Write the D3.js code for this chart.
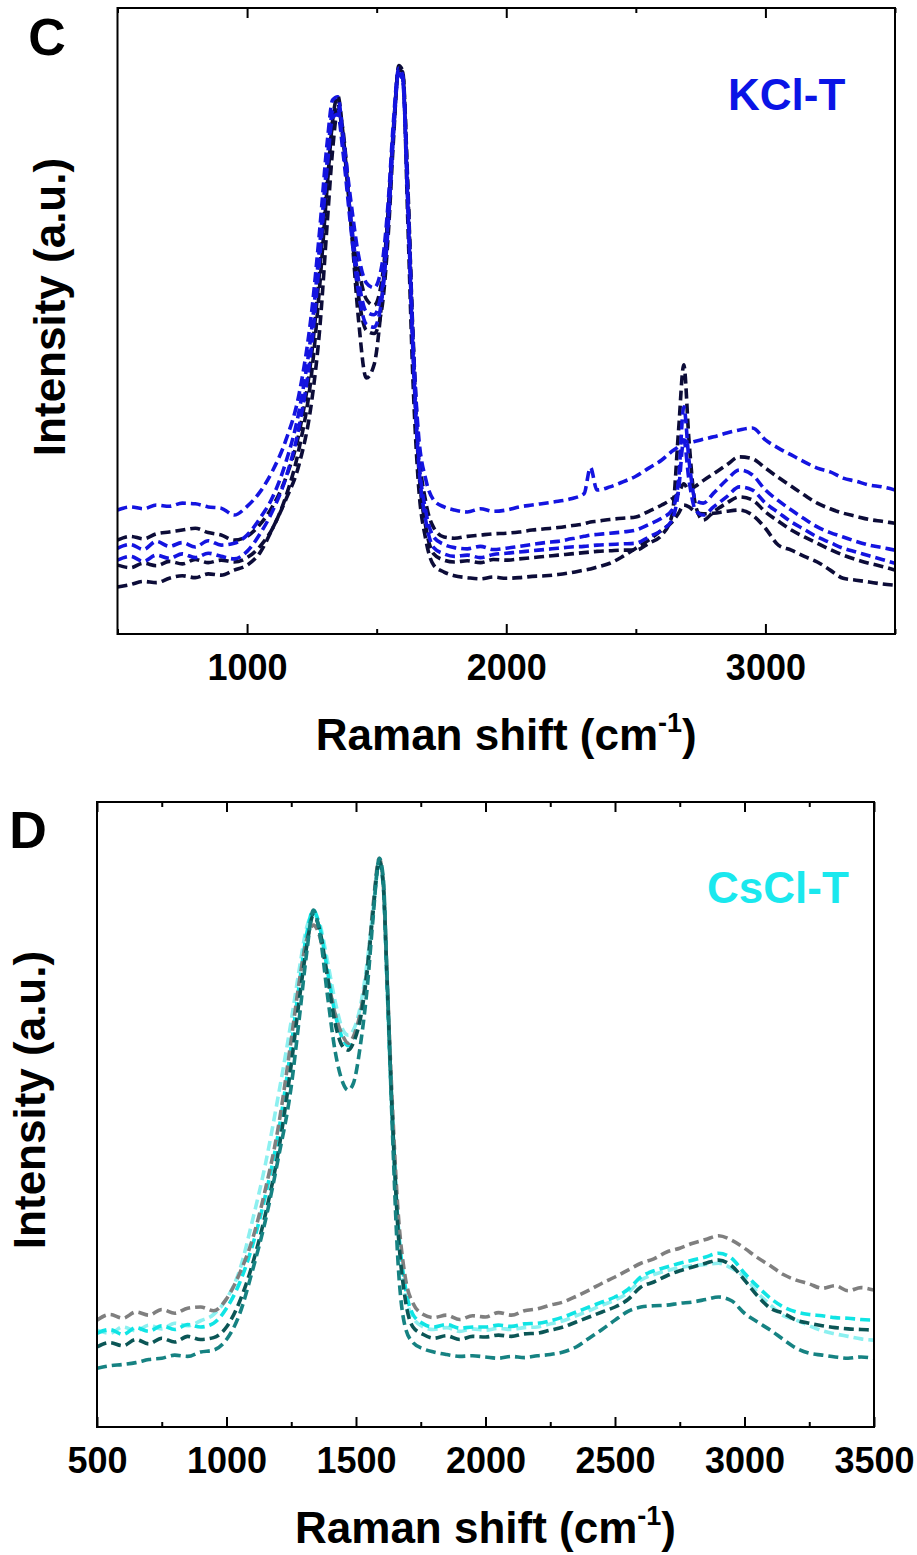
<!DOCTYPE html>
<html>
<head>
<meta charset="utf-8">
<script src="https://cdn.jsdelivr.net/npm/d3@7"></script>
<style>
  body { margin: 0; background: #fff; }
  svg { display: block; }
</style>
</head>
<body>
<div id="chart"></div>
<script>

// panel C : KCl-T spectra
var kclShift = [
  500, 550, 600, 650, 700, 750, 800, 850, 900, 950,
  1000, 1050, 1100, 1150, 1200, 1250, 1280, 1310, 1330, 1350,
  1370, 1400, 1430, 1460, 1490, 1520, 1545, 1565, 1585, 1600,
  1620, 1640, 1660, 1690, 1720, 1760, 1800, 1850, 1900, 1950,
  2000, 2050, 2100, 2150, 2200, 2250, 2300, 2325, 2350, 2400,
  2450, 2500, 2550, 2600, 2640, 2665, 2685, 2705, 2730, 2760,
  2800, 2850, 2900, 2950, 3000, 3050, 3100, 3150, 3200, 3250,
  3300, 3350, 3400, 3450, 3500
];
var kclA = [
  19.8, 20.3, 20.0, 20.6, 20.4, 20.9, 20.8, 20.3, 20.1, 19.0,
  20.4, 22.7, 26.2, 31.0, 38.2, 51.8, 64.5, 78.9, 85.3, 85.8,
  79.7, 69.3, 60.5, 56.1, 55.3, 58.9, 69.3, 82.1, 90.4, 89.3,
  69.3, 47.0, 32.6, 24.6, 21.4, 20.3, 19.8, 19.5, 20.0, 19.6,
  19.8, 20.3, 20.6, 20.9, 21.2, 21.6, 22.4, 26.6, 23.0, 23.5,
  24.3, 25.2, 26.5, 27.8, 29.2, 30.0, 31.0, 30.6, 30.8, 31.1,
  31.5, 32.1, 32.6, 32.9, 31.0, 29.7, 28.6, 27.5, 26.5, 25.9,
  24.9, 24.4, 23.8, 23.5, 23.0
];
var kclB = [
  15.0, 15.6, 15.2, 16.0, 16.3, 16.6, 16.9, 16.2, 15.8, 15.0,
  15.6, 17.5, 20.5, 25.0, 32.0, 45.0, 58.0, 73.0, 82.0, 84.8,
  79.0, 67.5, 58.5, 53.5, 52.5, 56.5, 67.5, 81.0, 90.0, 89.5,
  71.0, 48.0, 31.0, 21.0, 17.0, 15.5, 15.3, 15.6, 15.8, 16.0,
  16.1, 16.3, 16.6, 16.8, 17.0, 17.3, 17.6, 17.9, 18.0, 18.3,
  18.5, 18.7, 19.6, 20.6, 21.6, 22.5, 24.0, 23.0, 23.6, 24.5,
  25.6, 27.0, 28.3, 28.0, 26.5, 25.0, 23.6, 22.2, 20.9, 20.0,
  19.3, 18.8, 18.3, 18.0, 17.7
];
var kclC = [
  13.7, 14.3, 13.5, 14.8, 14.0, 14.6, 13.9, 14.9, 14.2, 14.5,
  15.8, 18.5, 22.0, 27.5, 35.5, 49.0, 62.0, 76.0, 83.5, 84.0,
  78.0, 66.5, 56.5, 51.5, 51.0, 55.0, 66.5, 80.5, 89.8, 89.0,
  70.0, 46.0, 29.5, 19.5, 15.5, 14.3, 13.8, 13.6, 14.0, 13.5,
  13.7, 14.0, 14.3, 14.6, 14.8, 15.2, 15.6, 15.8, 15.9, 16.1,
  16.3, 16.6, 17.5, 18.5, 19.8, 24.6, 36.3, 27.8, 21.4, 20.9,
  22.5, 24.6, 26.2, 25.4, 23.0, 21.3, 19.8, 18.4, 17.1, 16.2,
  15.5, 14.8, 14.2, 13.8, 13.4
];
var kclD = [
  11.8, 12.4, 11.6, 12.6, 12.1, 12.8, 12.2, 12.9, 12.4, 12.0,
  13.2, 16.0, 19.8, 25.0, 33.0, 46.5, 60.0, 75.0, 82.5, 83.0,
  77.0, 65.0, 54.5, 49.5, 49.0, 53.5, 65.5, 80.0, 89.5, 88.5,
  69.0, 45.0, 28.5, 18.0, 13.8, 12.8, 12.4, 12.6, 12.2, 12.7,
  12.9, 13.1, 13.3, 13.5, 13.7, 13.9, 14.0, 14.1, 14.2, 14.3,
  14.4, 14.5, 15.5, 16.6, 18.2, 23.0, 31.0, 24.6, 19.8, 19.0,
  20.3, 21.9, 23.5, 23.0, 20.9, 19.4, 17.9, 16.7, 15.5, 14.6,
  13.7, 13.1, 12.5, 11.9, 11.3
];
var kclE = [
  11.0, 10.6, 11.3, 10.9, 11.6, 11.2, 11.9, 11.4, 11.8, 11.5,
  12.2, 14.0, 17.0, 22.0, 29.5, 42.0, 55.5, 72.0, 82.0, 86.0,
  80.0, 66.0, 54.0, 48.5, 48.0, 52.0, 64.0, 79.0, 90.8, 90.0,
  72.0, 47.0, 28.0, 17.0, 12.8, 11.8, 11.5, 11.7, 11.4, 11.9,
  11.8, 12.0, 12.2, 12.4, 12.6, 12.8, 13.0, 13.1, 13.2, 13.3,
  13.4, 13.4, 14.5, 15.8, 19.0, 32.6, 43.0, 31.0, 20.6, 18.2,
  19.5, 20.9, 21.9, 21.4, 19.5, 18.0, 16.6, 15.5, 14.5, 13.5,
  12.6, 11.9, 11.3, 10.8, 10.2
];
var kclF = [
  7.5, 7.9, 8.4, 8.2, 8.9, 9.3, 9.0, 9.6, 9.4, 10.2,
  11.0, 13.0, 17.0, 21.5, 27.0, 37.4, 48.6, 66.1, 77.3, 83.7,
  80.5, 66.1, 50.2, 40.9, 43.0, 53.4, 67.7, 80.5, 90.1, 89.8,
  66.1, 40.6, 24.6, 15.0, 11.0, 9.9, 9.3, 9.0, 8.8, 9.1,
  8.9, 9.0, 9.2, 9.3, 9.5, 9.8, 10.2, 10.4, 10.7, 11.3,
  12.4, 13.7, 15.0, 16.6, 17.9, 19.3, 20.6, 20.3, 19.5, 19.2,
  19.3, 19.6, 19.8, 19.0, 16.9, 14.2, 13.4, 12.4, 11.5, 10.2,
  8.9, 8.6, 8.3, 8.0, 7.8
];

// panel D : CsCl-T spectra
var cscShift = [
  500, 550, 600, 650, 700, 750, 800, 850, 900, 950,
  1000, 1050, 1100, 1150, 1200, 1250, 1280, 1310, 1335, 1360,
  1390, 1420, 1450, 1470, 1490, 1520, 1545, 1565, 1590, 1605,
  1620, 1640, 1660, 1690, 1720, 1760, 1800, 1850, 1900, 1950,
  2000, 2050, 2100, 2150, 2200, 2250, 2300, 2350, 2400, 2450,
  2500, 2550, 2600, 2650, 2700, 2750, 2800, 2850, 2900, 2950,
  3000, 3050, 3100, 3150, 3200, 3250, 3300, 3350, 3400, 3450,
  3500
];
var cscGray = [
  17.1, 18.0, 17.4, 18.4, 17.9, 18.8, 18.2, 19.0, 19.2, 18.6,
  20.5, 24.5, 30.0, 38.0, 48.0, 62.0, 71.0, 78.0, 80.3, 78.5,
  72.0, 66.0, 62.5, 61.4, 62.5, 67.0, 74.0, 83.0, 91.0, 87.0,
  72.0, 52.0, 36.0, 24.0, 19.8, 18.0, 17.5, 17.9, 17.2, 17.8,
  17.6, 18.3, 17.9, 18.6, 18.9, 19.5, 20.0, 20.9, 21.9, 23.0,
  24.0, 25.1, 26.2, 26.9, 28.0, 28.6, 29.4, 30.0, 30.6, 29.9,
  28.6, 27.1, 25.8, 24.4, 23.5, 22.9, 22.2, 22.6, 21.8, 22.3,
  21.9
];
var cscCyan = [
  15.0, 15.6, 14.8, 15.9, 15.3, 16.2, 15.6, 16.4, 16.0, 16.6,
  19.0, 23.0, 29.0, 37.0, 47.0, 61.0, 70.5, 79.0, 82.7, 80.0,
  73.0, 66.0, 62.0, 61.0, 62.0, 66.5, 74.0, 82.5, 90.4, 87.0,
  71.0, 50.0, 34.0, 22.5, 18.0, 16.5, 16.0, 16.4, 15.8, 16.0,
  16.0, 16.3, 16.1, 16.5, 16.6, 17.0, 17.6, 18.4, 19.2, 20.0,
  20.8, 22.0, 24.0, 25.0, 25.6, 26.2, 26.7, 27.2, 27.8, 27.0,
  24.6, 22.5, 20.6, 19.2, 18.4, 18.0, 17.8, 17.5, 17.4, 17.2,
  17.1
];
var cscLight = [
  15.5, 15.0, 16.0, 15.4, 16.3, 15.7, 16.6, 16.2, 17.0, 18.0,
  20.5, 25.0, 33.0, 42.0, 53.0, 65.0, 73.0, 80.0, 82.0, 80.5,
  74.5, 68.0, 63.5, 62.7, 63.5, 68.0, 75.0, 82.5, 90.0, 86.5,
  70.0, 49.0, 33.0, 21.5, 17.5, 16.0, 15.6, 15.9, 15.3, 15.7,
  15.5, 15.8, 15.6, 15.9, 16.0, 16.5, 17.0, 17.8, 18.6, 19.5,
  20.3, 21.5, 23.5, 24.4, 25.0, 25.5, 25.8, 26.0, 26.2, 25.4,
  24.0, 21.5, 19.5, 17.8, 17.1, 16.2, 15.4, 14.9, 14.5, 14.1,
  13.9
];
var cscDark = [
  12.8, 13.5, 13.0, 14.0, 13.3, 14.2, 13.6, 14.5, 14.0, 14.3,
  16.0, 20.0, 26.0, 34.0, 44.0, 58.0, 68.0, 77.0, 81.9, 79.5,
  72.0, 64.5, 60.8, 60.3, 61.5, 66.0, 73.5, 82.0, 90.6, 87.0,
  71.5, 50.0, 33.0, 20.5, 16.0, 14.8, 14.2, 14.6, 14.0, 14.5,
  14.4, 14.7, 14.5, 14.9, 15.0, 15.5, 16.0, 16.8, 17.6, 18.4,
  19.2, 20.4, 22.4, 23.2, 24.2, 25.0, 25.6, 26.2, 26.7, 25.8,
  23.5, 21.0, 19.0, 18.2, 17.1, 16.6, 16.2, 15.9, 15.7, 15.6,
  15.5
];
var cscTeal = [
  9.4, 9.8, 10.0, 10.3, 10.8, 11.0, 11.5, 11.3, 12.0, 12.3,
  14.0, 18.0, 25.0, 33.0, 43.0, 54.5, 65.0, 76.0, 82.7, 79.0,
  69.0, 60.0, 55.0, 53.9, 55.0, 62.0, 71.0, 81.0, 91.0, 88.0,
  72.0, 48.0, 28.0, 16.0, 13.5, 12.5, 12.0, 11.6, 11.3, 11.4,
  11.2, 11.0, 11.3, 11.1, 11.4, 11.6, 12.0, 12.8, 14.2, 15.6,
  17.1, 18.5, 19.2, 19.4, 19.5, 19.8, 20.0, 20.4, 20.8, 20.2,
  18.2, 16.8, 15.5, 14.0, 12.6, 11.8, 11.5, 11.2, 11.0, 11.2,
  11.0
];

// ticks
var kclMajor = [1000, 2000, 3000];
var kclMinor = [500, 1500, 2500, 3500];
var cscMajor = [500, 1000, 1500, 2000, 2500, 3000, 3500];
var cscMinor = [750, 1250, 1750, 2250, 2750, 3250];

var FONT = 'Arial, "Liberation Sans", sans-serif';

var svg = d3.select('#chart').append('svg')
  .attr('width', 917)
  .attr('height', 1555)
  .attr('font-family', FONT)
  .attr('font-weight', 'bold');

function drawPanel(config) {

  var g = svg.append('g').attr('class', 'panel-' + config.name);

  var x = d3.scaleLinear().domain([500, 3500]).range([config.left, config.right]);
  var y = d3.scaleLinear().domain([0, 100]).range([config.bottom, config.top]);

  var clipId = 'clip-' + config.name;
  g.append('clipPath').attr('id', clipId)
    .append('rect')
    .attr('x', config.left)
    .attr('y', config.top)
    .attr('width', config.right - config.left)
    .attr('height', config.bottom - config.top);

  var line = d3.line()
    .x(function(d) { return x(d[0]); })
    .y(function(d) { return y(d[1]); })
    .curve(d3.curveMonotoneX);

  g.append('g')
    .attr('clip-path', 'url(#' + clipId + ')')
    .selectAll('path')
    .data(config.series)
    .enter().append('path')
    .attr('d', function(s) { return line(d3.zip(config.shift, s.values)); })
    .attr('fill', 'none')
    .attr('stroke', function(s) { return s.color; })
    .attr('stroke-width', 3.6)
    .attr('stroke-dasharray', '10,5');

  // inward ticks, bottom and top
  function ticks(axis, values, size, ypos, labels) {
    var a = g.append('g')
      .attr('transform', 'translate(0,' + ypos + ')')
      .call(axis(x).tickValues(values).tickSize(size).tickPadding(20)
        .tickFormat(labels ? d3.format('d') : ''));
    a.select('.domain').remove();
    a.attr('font-family', FONT).attr('font-size', 36).attr('font-weight', 'bold');
    a.selectAll('line').attr('stroke', '#000').attr('stroke-width', 2);
    a.selectAll('text').attr('fill', '#000');
  }
  ticks(d3.axisBottom, config.major, -10, config.bottom, true);
  ticks(d3.axisBottom, config.minor, -5, config.bottom, false);
  ticks(d3.axisTop, config.major, -10, config.top, false);
  ticks(d3.axisTop, config.minor, -5, config.top, false);

  g.append('rect')
    .attr('x', config.left)
    .attr('y', config.top)
    .attr('width', config.right - config.left)
    .attr('height', config.bottom - config.top)
    .attr('fill', 'none')
    .attr('stroke', '#000')
    .attr('stroke-width', 2);

  // axis titles
  var xt = g.append('text')
    .attr('x', (config.left + config.right) / 2)
    .attr('y', config.bottom + 116)
    .attr('text-anchor', 'middle')
    .attr('font-size', 44);
  xt.append('tspan').text('Raman shift (cm');
  xt.append('tspan').attr('dy', -18).attr('font-size', 27).text('-1');
  xt.append('tspan').attr('dy', 18).text(')');

  g.append('text')
    .attr('transform', 'translate(' + config.yTitleX + ',' + config.yTitleY + ') rotate(-90)')
    .attr('text-anchor', 'middle')
    .attr('font-size', 44)
    .text('Intensity (a.u.)');

  g.append('text')
    .attr('x', config.letterX)
    .attr('y', config.letterY)
    .attr('text-anchor', 'middle')
    .attr('font-size', 52)
    .text(config.letter);

  g.append('text')
    .attr('x', config.labelX)
    .attr('y', config.labelY)
    .attr('font-size', 44)
    .attr('fill', config.labelColor)
    .text(config.label);
}

var BLUE = '#1414e0';
var NAVY = '#0c0c38';

drawPanel({
  name: 'c', left: 117.5, right: 895, top: 8, bottom: 634,
  shift: kclShift,
  series: [
    { values: kclB, color: NAVY },
    { values: kclE, color: NAVY },
    { values: kclF, color: NAVY },
    { values: kclA, color: BLUE },
    { values: kclC, color: BLUE },
    { values: kclD, color: BLUE }
  ],
  major: kclMajor, minor: kclMinor,
  yTitleX: 65, yTitleY: 307,
  letter: 'C', letterX: 47, letterY: 55,
  label: 'KCl-T', labelX: 728, labelY: 110, labelColor: '#0a14e6'
});

drawPanel({
  name: 'd', left: 97, right: 874, top: 802, bottom: 1427,
  shift: cscShift,
  series: [
    { values: cscLight, color: '#8cf0f0' },
    { values: cscCyan, color: '#10e4e4' },
    { values: cscGray, color: '#7f7f7f' },
    { values: cscDark, color: '#0b5656' },
    { values: cscTeal, color: '#168282' }
  ],
  major: cscMajor, minor: cscMinor,
  yTitleX: 45, yTitleY: 1100,
  letter: 'D', letterX: 28, letterY: 848,
  label: 'CsCl-T', labelX: 707, labelY: 903, labelColor: '#1ae8ee'
});

</script>
</body>
</html>
